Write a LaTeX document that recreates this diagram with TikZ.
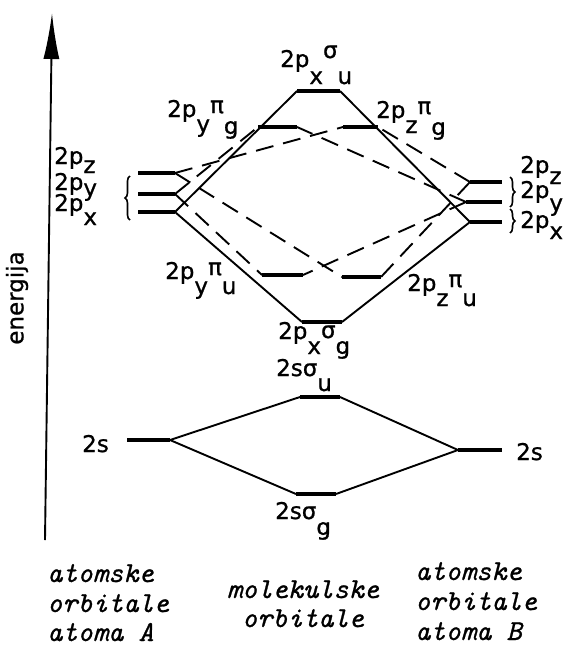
\documentclass[tikz,border=0pt]{standalone}
\usepackage{fontspec}
\setmainfont{DejaVu Sans}[FakeBold=0.9]
\newfontfamily\twfont{Latin Modern Mono}[FakeBold=0.9]
\usetikzlibrary{arrows.meta,decorations.pathreplacing}
\newcommand{\lowr}[2][15pt]{\raisebox{-#1}{#2}}
\newcommand{\highr}[2][6pt]{\raisebox{#1}{#2}}
\tikzset{
  lvl/.style={line width=4.5pt},
  conn/.style={line width=1.9pt},
  pidash/.style={line width=1.9pt, dash pattern=on 18pt off 10pt},
  lab/.style={font=\fontsize{23}{26}\selectfont, inner sep=0pt, anchor=base west},
  bot/.style={font=\fontsize{29}{30}\selectfont\twfont\itshape, inner sep=0pt},
  brc/.style={line width=1.6pt, decorate, decoration={brace, amplitude=5pt}}
}
\begin{document}
\begin{tikzpicture}[x=1pt,y=-1pt]
\useasboundingbox (0,0) rectangle (566,651);
% axis
\coordinate (ax0) at (45,540);
\coordinate (ax1) at (52,13);
\draw[line width=1.9pt, -{Latex[length=46pt,width=16pt]}] (ax0) -- (ax1);
\node[font=\fontsize{23}{26}\selectfont, rotate=90, inner sep=0pt] (en) at (17,298) {energija};
% levels
\foreach \n/\xa/\xb/\yy in {Lz/138/175/173, Ly/138/175/194, Lx/138/175/212,
  Rz/470/502/182, Ry/466/502/202, Rx/470/502/222,
  su/297/340/91, pyg/258/297/127, pzg/343/378/127,
  pyu/262/303/275, pzu/342/381/277, sg/302/342/322,
  ssu/300/340/397, ssg/296/336/494, Ls/127/170/440, Rs/458/502/450}{
  \coordinate (\n-w) at (\xa,\yy);
  \coordinate (\n-e) at (\xb,\yy);
  \draw[lvl] (\n-w) -- (\n-e);
}
% sigma connectors
\draw[conn] (Lx-e) -- (su-w);
\draw[conn] (Lx-e) -- (sg-w);
\draw[conn] (Rx-w) -- (su-e);
\draw[conn] (Rx-w) -- (sg-e);
\draw[conn] (Ls-e) -- (ssu-w);
\draw[conn] (Ls-e) -- (ssg-w);
\draw[conn] (Rs-w) -- (ssu-e);
\draw[conn] (Rs-w) -- (ssg-e);
% pi connectors
\draw[pidash] (Lz-e) -- (pzg-w);
\draw[pidash] (Lz-e) -- (pzu-w);
\draw[pidash] (Ly-e) -- (pyg-w);
\draw[pidash] (Ly-e) -- (pyu-w);
\draw[pidash] (Rz-w) -- (pzg-e);
\draw[pidash] (Rz-w) -- (pzu-e);
\draw[pidash] (Ry-w) -- (pyg-e);
\draw[pidash] (Ry-w) -- (pyu-e);
% braces
\coordinate (lb1) at (130,220);
\coordinate (lb2) at (130,176);
\draw[brc] (lb1) -- (lb2);
\coordinate (rb1) at (510,177);
\coordinate (rb2) at (510,207);
\coordinate (rb3) at (510,209);
\coordinate (rb4) at (510,233);
\draw[brc] (rb1) -- (rb2);
\draw[brc] (rb3) -- (rb4);
% MO labels
\node[lab] (t-su) at (280,67) {2p\lowr[17pt]{x}\highr[9pt]{σ}\lowr[17pt]{u}};
\node[lab] (t-pyg) at (167,117) {2p\lowr{y}\highr[4pt]{π}\lowr[17pt]{g}};
\node[lab] (t-pzg) at (376,118) {2p\lowr{z}\highr[4pt]{π}\lowr[17pt]{g}};
\node[lab] (t-pyu) at (165,279) {2p\lowr{y}\highr[4pt]{π}\lowr{u}};
\node[lab] (t-pzu) at (407,291) {2p\lowr{z}\highr[4pt]{π}\lowr{u}};
\node[lab] (t-sg) at (278,339) {2p\lowr{x}\highr[1pt]{σ}\lowr{g}};
\node[lab] (t-ssu) at (276,376) {2sσ\lowr{u}};
\node[lab] (t-ssg) at (275,519) {2sσ\lowr[16pt]{g}};
\node[lab] (t-Ls) at (82,452) {2s};
\node[lab] (t-Rs) at (516,460) {2s};
% AO 2p labels
\node[lab] (t-Lz) at (54,164) {2p\lowr[9pt]{z}};
\node[lab] (t-Ly) at (54,190) {2p\lowr[6pt]{y}};
\node[lab] (t-Lx) at (54,211) {2p\lowr[14pt]{x}};
\node[lab] (t-Rz) at (520,173) {2p\lowr[11pt]{z}};
\node[lab] (t-Ry) at (520,198) {2p\lowr[13pt]{y}};
\node[lab] (t-Rx) at (520,228) {2p\lowr[11pt]{x}};
% bottom texts
\node[bot, anchor=base west] (a1) at (47,582) {atomske};
\node[bot, anchor=base west] (a2) at (47,612) {orbitale};
\node[bot, anchor=base west] (a3) at (47,641) {atoma A};
\node[bot, anchor=base] (m1) at (303,598) {molekulske};
\node[bot, anchor=base] (m2) at (303,627) {orbitale};
\node[bot, anchor=base west] (b1) at (415,580) {atomske};
\node[bot, anchor=base west] (b2) at (415,610) {orbitale};
\node[bot, anchor=base west] (b3) at (415,640) {atoma B};
\end{tikzpicture}
\end{document}
